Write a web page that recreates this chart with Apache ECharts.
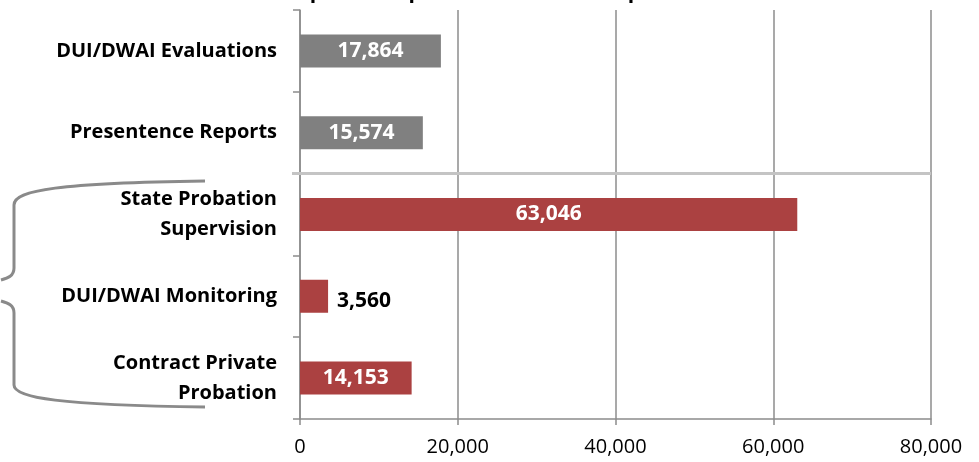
<!DOCTYPE html>
<html>
<head>
<meta charset="utf-8">
<script src="https://cdn.jsdelivr.net/npm/echarts@6/dist/echarts.min.js"></script>
<style>
  body { margin: 0; padding: 0; background: #fff; }
  #chart { width: 979px; height: 462px; }
</style>
</head>
<body>
<div id="chart"></div>
<script>
// categories from top to bottom
const categories = [
  "DUI/DWAI Evaluations",
  "Presentence Reports",
  "State Probation\nSupervision",
  "DUI/DWAI Monitoring",
  "Contract Private\nProbation"
];
const values = [17864, 15574, 63046, 3560, 14153];
const barColors = ["#808080", "#808080", "#AB4141", "#AB4141", "#AB4141"];
const xTicks = [0, 20000, 40000, 60000, 80000];

const fontFamily = "'Open Sans', sans-serif";
const fmt = v => v.toLocaleString("en-US");

let chart = echarts.init(document.getElementById("chart"));

let data = values.map((v, i) => {
  let small = v < 8000;
  return {
    value: v,
    itemStyle: { color: barColors[i] },
    label: small
      ? { position: "right", color: "#000", offset: [4, 5] }
      : { position: "inside", color: "#fff" }
  };
});

// brace pieces (decoration on the left)
const braceStyle = { stroke: "#8a8a8a", lineWidth: 3, fill: null };
const brace = [
  { type: "bezierCurve", shape: { x1: 205, y1: 181, cpx1: 60, cpy1: 183, cpx2: 14, cpy2: 190, x2: 14, y2: 205 } },
  { type: "line", shape: { x1: 14, y1: 205, x2: 14, y2: 268 } },
  { type: "bezierCurve", shape: { x1: 14, y1: 268, cpx1: 14, cpy1: 276, cpx2: 8, cpy2: 278, x2: 1, y2: 280 } },
  { type: "bezierCurve", shape: { x1: 1, y1: 301, cpx1: 8, cpy1: 303, cpx2: 14, cpy2: 305, x2: 14, y2: 313 } },
  { type: "line", shape: { x1: 14, y1: 313, x2: 14, y2: 385 } },
  { type: "bezierCurve", shape: { x1: 14, y1: 385, cpx1: 14, cpy1: 398, cpx2: 60, cpy2: 405, x2: 205, y2: 407 } }
].map(g => Object.assign(g, { style: braceStyle, silent: true }));

let option = {
  animation: false,
  title: {
    text: "Completed Reports and Current Population",
    left: "center",
    top: -23,
    textStyle: { fontFamily: fontFamily, fontWeight: "bold", fontSize: 21, color: "#000" }
  },
  grid: { left: 300, right: 48, top: 10, bottom: 43 },
  xAxis: {
    type: "value",
    min: xTicks[0],
    max: xTicks[xTicks.length - 1],
    interval: 20000,
    axisLine: { show: true, lineStyle: { color: "#8c8c8c", width: 1.5 } },
    axisTick: { show: true, length: 6, lineStyle: { color: "#8c8c8c", width: 1.5 } },
    splitLine: { show: true, lineStyle: { color: "#8c8c8c", width: 1.5 } },
    axisLabel: {
      formatter: v => fmt(v),
      color: "#000",
      fontFamily: fontFamily,
      fontSize: 20,
      margin: 18
    }
  },
  yAxis: {
    type: "category",
    data: categories,
    inverse: true,
    axisLine: { show: true, lineStyle: { color: "#8c8c8c", width: 1.5 } },
    axisTick: { show: true, length: 7, lineStyle: { color: "#8c8c8c", width: 1.5 } },
    splitLine: { show: false },
    axisLabel: {
      color: "#000",
      fontFamily: fontFamily,
      fontWeight: "bold",
      fontSize: 20,
      lineHeight: 30,
      margin: 23,
      align: "right"
    }
  },
  series: [
    {
      type: "bar",
      data: data,
      barWidth: 33,
      label: {
        show: true,
        formatter: p => fmt(p.value),
        fontFamily: fontFamily,
        fontWeight: "bold",
        fontSize: 21
      }
    }
  ],
  graphic: brace
};

chart.setOption(option);

// light gray separator between the two groups of categories
let yA = chart.convertToPixel({ yAxisIndex: 0 }, categories[1]);
let yB = chart.convertToPixel({ yAxisIndex: 0 }, categories[2]);
let yMid = (yA + yB) / 2;
let xL = chart.convertToPixel({ xAxisIndex: 0 }, xTicks[0]);
let xR = chart.convertToPixel({ xAxisIndex: 0 }, xTicks[xTicks.length - 1]);
chart.setOption({
  graphic: brace.concat([{
    type: "line",
    silent: true,
    z: 5,
    shape: { x1: xL - 8, y1: yMid, x2: xR, y2: yMid },
    style: { stroke: "#c4c4c4", lineWidth: 3 }
  }])
});
</script>
</body>
</html>
